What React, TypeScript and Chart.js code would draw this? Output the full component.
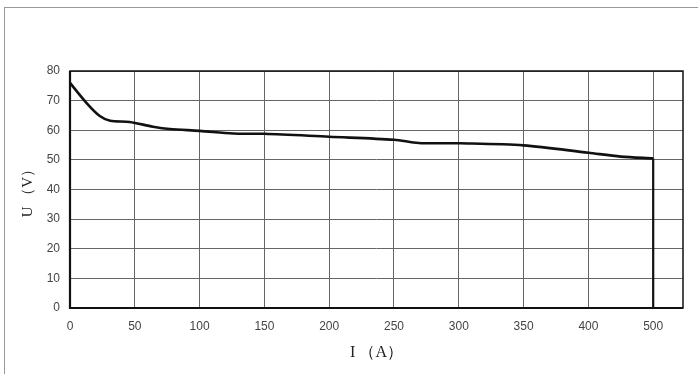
import React, { useEffect, useRef } from "react";
import { Chart, registerables } from "chart.js";

Chart.register(...registerables);

// Axis positions (the reference's axis puts the "500" label one step after 400)
const xTickValues = [0, 50, 100, 150, 200, 250, 300, 350, 400, 450];
const xTickLabels = ["0", "50", "100", "150", "200", "250", "300", "350", "400", "500"];
const yTickValues = [0, 10, 20, 30, 40, 50, 60, 70, 80];

// Curve: current (axis position) and voltage
const currentPos = [0, 13, 23, 31, 46, 64, 77, 100, 126, 150, 200, 250, 269, 301, 350, 400, 425, 450];
const voltage = [76, 69.1, 64.8, 63.2, 62.8, 61.2, 60.4, 59.8, 58.9, 58.8, 57.8, 56.8, 55.7, 55.6, 54.9, 52.4, 51.1, 50.5];

// Vertical cut-off at the end
const dropCurrent = [450, 450];
const dropVoltage = [50.5, 0];

const xMax = 473;

const frame = {
  id: "frame",
  afterDraw(chart: any) {
    const { ctx, chartArea } = chart;
    ctx.save();
    ctx.strokeStyle = "#111";
    ctx.lineWidth = 1.5;
    ctx.strokeRect(chartArea.left, chartArea.top, chartArea.right - chartArea.left, chartArea.bottom - chartArea.top);
    ctx.lineWidth = 2.2;
    ctx.beginPath();
    ctx.moveTo(chartArea.left, chartArea.top);
    ctx.lineTo(chartArea.left, chartArea.bottom);
    ctx.lineTo(chartArea.right, chartArea.bottom);
    ctx.stroke();
    ctx.restore();
  },
};

export default function App() {
  const ref = useRef<HTMLCanvasElement>(null);
  useEffect(() => {
    if (!ref.current) return;
    const chart = new Chart(ref.current, {
      type: "line",
      data: {
        datasets: [
          {
            data: currentPos.map((x, i) => ({ x, y: voltage[i] })),
            borderColor: "#111",
            borderWidth: 2.6,
            pointRadius: 0,
            tension: 0.3,
            fill: false,
          },
          {
            data: dropCurrent.map((x, i) => ({ x, y: dropVoltage[i] })),
            borderColor: "#111",
            borderWidth: 2.2,
            pointRadius: 0,
            tension: 0,
            fill: false,
          },
        ],
      },
      options: {
        animation: false,
        responsive: false,
        devicePixelRatio: 1,
        layout: { padding: { left: 0, top: 71, right: 15, bottom: 0 } },
        plugins: { legend: { display: false }, tooltip: { enabled: false } },
        scales: {
          x: {
            type: "linear",
            min: 0,
            max: xMax,
            afterBuildTicks: (s: any) => {
              s.ticks = xTickValues.map((v) => ({ value: v }));
            },
            afterFit: (s: any) => {
              s.height = 66;
            },
            grid: { color: "#666", lineWidth: 1, drawTicks: false },
            border: { display: false },
            ticks: {
              padding: 11,
              color: "#444",
              font: { family: "Liberation Sans", size: 12 },
              callback: (v: any) => {
                const i = xTickValues.indexOf(Number(v));
                return i >= 0 ? xTickLabels[i] : "";
              },
              maxRotation: 0,
              autoSkip: false,
            },
            title: {
              display: true,
              text: "I （A）",
              color: "#222",
              font: { family: "Liberation Serif", size: 16 },
              padding: { top: 0, bottom: 12 },
            },
          },
          y: {
            type: "linear",
            min: 0,
            max: 80,
            afterBuildTicks: (s: any) => {
              s.ticks = yTickValues.map((v) => ({ value: v }));
            },
            afterFit: (s: any) => {
              s.width = 70;
            },
            grid: { color: "#666", lineWidth: 1, drawTicks: false },
            border: { display: false },
            ticks: {
              padding: 10,
              color: "#444",
              font: { family: "Liberation Sans", size: 12 },
            },
            title: {
              display: true,
              text: "U （V）",
              color: "#222",
              font: { family: "Liberation Serif", size: 15 },
              padding: { top: 19, bottom: 0 },
            },
          },
        },
      },
      plugins: [frame],
    });
    return () => chart.destroy();
  }, []);
  return (
    <div style={{ position: "absolute", left: 0, top: 0, width: 698, height: 374, background: "#fff" }}>
      <div style={{ position: "absolute", left: 4, top: 7, width: 694, height: 367, borderLeft: "1px solid #999", borderTop: "1px solid #999" }} />
      <canvas ref={ref} width={698} height={374} style={{ position: "absolute", left: 0, top: 0 }} />
    </div>
  );
}
